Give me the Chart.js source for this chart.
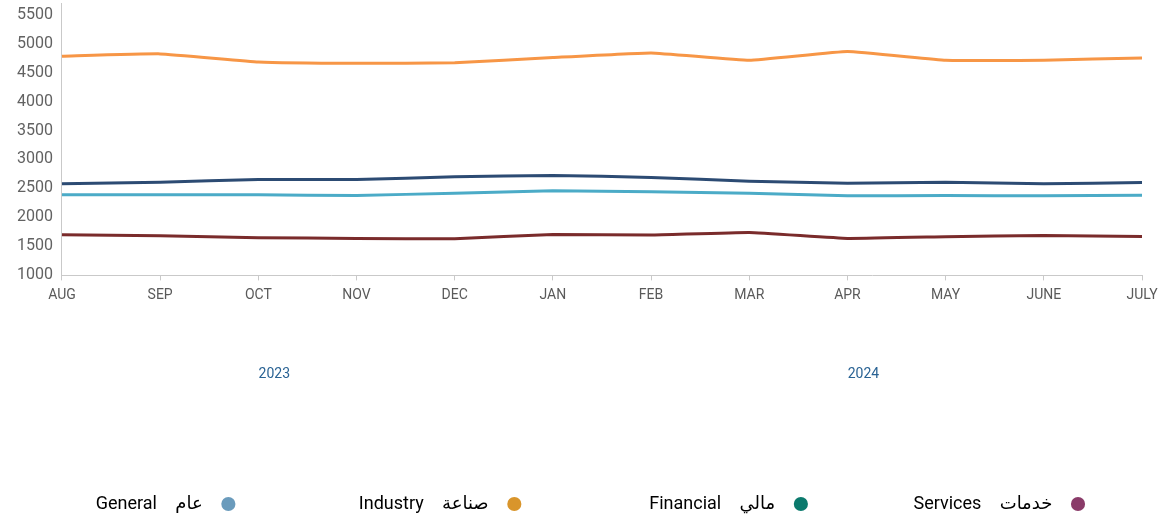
<!DOCTYPE html>
<html>
<head>
<meta charset="utf-8">
<script src="https://cdn.jsdelivr.net/npm/chart.js@4"></script>
<style>
  html, body { margin: 0; padding: 0; background: #fff; }
  canvas { display: block; }
</style>
</head>
<body>
<canvas id="trendChart" width="1168" height="520"></canvas>
<script>
// Chart data
const months = ['AUG', 'SEP', 'OCT', 'NOV', 'DEC', 'JAN', 'FEB', 'MAR', 'APR', 'MAY', 'JUNE', 'JULY'];
const yearLabels = ['2023', '2024'];
const yearCenters = [2, 8]; // middle of each year's months on the month axis

const industry  = [4781, 4822, 4684, 4660, 4667, 4759, 4839, 4712, 4862, 4712, 4712, 4753];
const general   = [2580, 2609, 2655, 2655, 2701, 2724, 2690, 2626, 2591, 2609, 2580, 2603];
const financial = [2391, 2391, 2391, 2379, 2419, 2460, 2443, 2419, 2373, 2379, 2373, 2385];
const services  = [1701, 1684, 1650, 1638, 1632, 1707, 1695, 1741, 1638, 1667, 1690, 1672];

const yTicks = [1000, 1500, 2000, 2500, 3000, 3500, 4000, 4500, 5000, 5500];

const FONT = "Roboto, 'DejaVu Sans', sans-serif";

// Legend dots use their own palette
const legendDots = ['#8a3b69', '#0b7a6d', '#d9952b', '#6a9bbc'];
// extra spaces after each legend entry (spacing between entries)
const legendGaps = [11, 16, 15, 7];

document.addEventListener('DOMContentLoaded', () => {
    createTrendChart();
});

function createTrendChart() {
    const canvas = document.getElementById('trendChart');
    if (!canvas) return;

    new Chart(canvas, {
        type: 'line',
        data: {
            labels: months,
            datasets: [
                { label: 'خدمات Services',  data: services,  borderColor: '#7a2b2b' },
                { label: 'مالي Financial',  data: financial, borderColor: '#4babc7' },
                { label: 'صناعة Industry',  data: industry,  borderColor: '#f79646' },
                { label: 'عام General',     data: general,   borderColor: '#2c4b73' }
            ].map(ds => Object.assign(ds, {
                borderWidth: 3,
                pointRadius: 0,
                tension: 0.1,
                fill: false
            }))
        },
        options: {
            responsive: false,
            animation: false,
            devicePixelRatio: 1,
            layout: {
                padding: { top: 3, left: 8, right: 26, bottom: -3 }
            },
            scales: {
                x: {
                    grid: { drawOnChartArea: false, tickLength: 5, color: '#c9c9c9' },
                    border: { color: '#c9c9c9' },
                    ticks: {
                        color: '#5a5a5a',
                        padding: 6.5,
                        maxRotation: 0,
                        autoSkip: false,
                        font: { family: FONT, size: 14 }
                    }
                },
                x2: {
                    type: 'linear',
                    position: 'bottom',
                    min: 0,
                    max: months.length - 1,
                    grid: { display: false, drawTicks: false },
                    border: { display: false },
                    afterBuildTicks: axis => {
                        axis.ticks = yearCenters.map(v => ({ value: v }));
                    },
                    ticks: {
                        color: '#2a6394',
                        padding: 56,
                        labelOffset: 16,
                        maxRotation: 0,
                        font: { family: FONT, size: 14 },
                        callback: v => yearLabels[yearCenters.indexOf(v)]
                    }
                },
                y: {
                    min: 1000,
                    max: 5700,
                    grid: { display: false, drawTicks: false },
                    border: { color: '#c9c9c9' },
                    afterBuildTicks: axis => {
                        axis.ticks = yTicks.map(v => ({ value: v }));
                    },
                    afterFit: axis => {
                        axis.paddingTop = 0;
                        axis.paddingBottom = 0;
                    },
                    ticks: {
                        color: '#626262',
                        padding: 9,
                        font: { family: FONT, size: 16 },
                        callback: v => String(v)
                    }
                }
            },
            plugins: {
                tooltip: { enabled: false },
                legend: {
                    position: 'bottom',
                    rtl: true,
                    textDirection: 'rtl',
                    labels: {
                        usePointStyle: true,
                        pointStyle: 'circle',
                        boxWidth: 15,
                        boxHeight: 10,
                        padding: 56,
                        color: '#555',
                        font: { family: FONT, size: 18 },
                        generateLabels: chart => chart.data.datasets.map((ds, i) => ({
                            // wider spaces: next to the dot, between the two words, and before the next item
                            text: '\u2002' + ds.label.replace(' ', '\u2003') + ' '.repeat(legendGaps[i]),
                            fillStyle: legendDots[i],
                            strokeStyle: legendDots[i],
                            lineWidth: 0,
                            pointStyle: 'circle',
                            datasetIndex: i
                        }))
                    }
                }
            }
        }
    });
}
</script>
</body>
</html>
